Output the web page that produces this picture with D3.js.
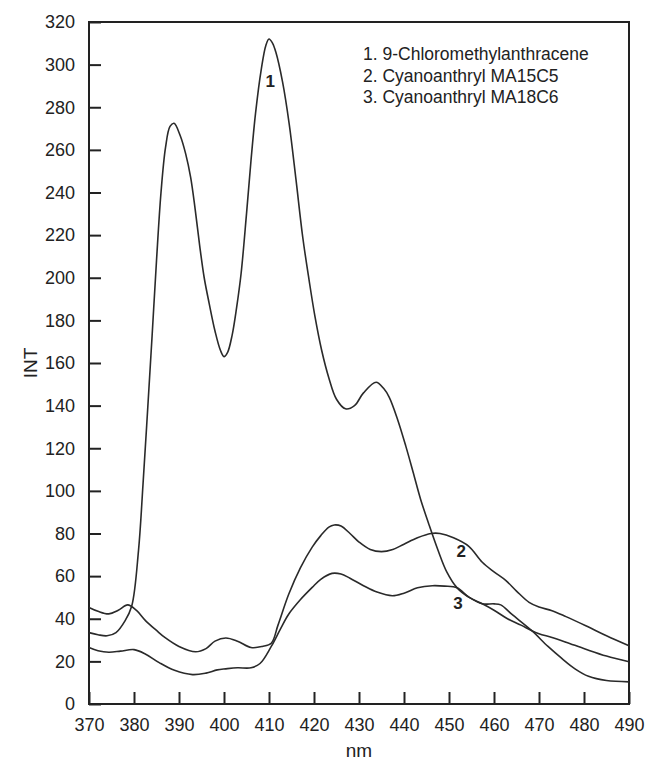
<!DOCTYPE html>
<html>
<head>
<meta charset="utf-8">
<script src="https://cdn.jsdelivr.net/npm/d3@7"></script>
<style>
  html, body { margin: 0; padding: 0; background: #fff; }
  svg { display: block; }
  text { font-family: "Liberation Sans", Arial, sans-serif; fill: #222; }
</style>
</head>
<body>
<svg id="chart" width="648" height="760"></svg>
<script>
// ---- data ----
const xTicks = [370, 380, 390, 400, 410, 420, 430, 440, 450, 460, 470, 480, 490];
const yTicks = [0, 20, 40, 60, 80, 100, 120, 140, 160, 180, 200, 220, 240, 260, 280, 300, 320];
const legendLabels = ["1. 9-Chloromethylanthracene", "2. Cyanoanthryl MA15C5", "3. Cyanoanthryl MA18C6"];
const xLabel = "nm";
const yLabel = "INT";

const wl1 = [370,372,374,376,378,379.5,381,382,383,384,385,386,387,388,388.9,390.3,391.5,392.6,393.6,394.6,395.6,396.7,398,399.2,400,400.8,401.8,402.8,403.8,405,406,407,408.3,409.3,410,410.8,411.5,413,414.5,416,417.5,418.9,420.2,421.7,423.3,425,427,429,431,433.8,435.5,436.7,438.5,440.4,442,443.7,445.5,447.5,449.5,451.8,454.5,457.4,460,461.5,464,468.4,472,475,478,481,485,490];
const int1 = [33.5,32.5,32,33.5,39,46,72,103,137,172,208,240,261,271,272.5,266.5,258,247,232,215,200,188,175,166,163,165,173,186,202,230,255,277,298,309,312,310,306,292,272,246,219,199,182,166,153,143,138.5,140,146,151,148,144,134,121,109,96,84.5,72.5,62,54.5,50,47,47,46.5,42,34.4,27,21.5,16.5,13,11,10.4];

const wl2 = [370,372,374.4,376.5,378.6,380.5,382.6,385,387,390,393.7,396,398,400.4,403,406,408.5,410.5,412,414.4,417,419.6,421.5,423.3,424.5,426,428,430,432.5,435,437.5,440,443,446,448,451,454.4,457.4,460,462.6,465,467.8,470,472.9,476,480.4,485,490];
const int2 = [45.3,43.5,42.3,44,46.5,44,39,34.5,31,27,24.5,26,29.5,31,29.5,26.5,27,28.5,37,51.6,64,73.6,79,83,84,83.5,80,76,72.5,71.5,72.5,75,78,80,80,78,74,66.5,62,58,53,47.7,45.5,43.8,41,36.7,32,27.3];

const wl3 = [370,372,374.4,377,380,382.5,385.6,389,393,396,398.5,400.4,403,406,408,410.5,412.5,414.4,417,419.6,421.5,424,426,428,431,434,437.4,440,443,446.3,449,451.8,454.5,457.4,460,463,466,468.4,470,472.9,476,480.4,485,490];
const int3 = [26.5,25,24.3,24.8,25.5,23.5,19.4,15.8,13.8,14.5,16,16.5,17,17,19,27,35,42.2,49,54.7,58.5,61.3,61,59,55.5,52.5,50.8,52,54.5,55.5,55.3,54.5,50,47,44,40,37,34.4,33,31.2,29,25.7,22.5,19.8];

const curveLabels = ["1", "2", "3"];
const curveLabelPos = [[410.3, 292], [452.7, 71.5], [452, 47.3]];

// ---- layout ----
const svg = d3.select("#chart");
const L = 89, R = 629, T = 22, B = 704;
const x = d3.scaleLinear().domain([370, 490]).range([L, R]);
const y = d3.scaleLinear().domain([0, 320]).range([B, T]);

const ink = "#222";

// axes
const xAxis = d3.axisBottom(x).tickValues(xTicks).tickSizeInner(-12).tickSizeOuter(0).tickPadding(14);
const yAxis = d3.axisLeft(y).tickValues(yTicks).tickSizeInner(-12).tickSizeOuter(0).tickPadding(14);

const gx = svg.append("g").attr("transform", `translate(0,${B})`).call(xAxis);
const gy = svg.append("g").attr("transform", `translate(${L},0)`).call(yAxis);
[gx, gy].forEach(g => {
  g.select(".domain").remove();
  g.selectAll(".tick line").attr("stroke", ink).attr("stroke-width", 2);
  g.selectAll(".tick text").style("font-size", "18px").style("font-family", "Liberation Sans, Arial, sans-serif").attr("fill", "#333");
});

// frame
svg.append("rect").attr("x", L).attr("y", T).attr("width", R - L).attr("height", B - T)
  .attr("fill", "none").attr("stroke", ink).attr("stroke-width", 2);

// curves
const line = d3.line().x(d => x(d[0])).y(d => y(d[1])).curve(d3.curveCatmullRom.alpha(0.5));
const series = [d3.zip(wl1, int1), d3.zip(wl2, int2), d3.zip(wl3, int3)];
series.forEach(s => {
  svg.append("path").datum(s).attr("d", line)
    .attr("fill", "none").attr("stroke", "#2a2a2a").attr("stroke-width", 1.6);
});

// curve number labels
curveLabels.forEach((t, i) => {
  svg.append("text").attr("x", x(curveLabelPos[i][0])).attr("y", y(curveLabelPos[i][1]))
    .attr("text-anchor", "middle").attr("dominant-baseline", "central")
    .style("font-size", "17px").style("font-weight", "bold").text(t);
});

// legend text
legendLabels.forEach((t, i) => {
  svg.append("text").attr("x", 363).attr("y", 60 + i * 21.5)
    .style("font-size", "17.5px").attr("fill", "#333").text(t);
});

// axis titles
svg.append("text").attr("x", (L + R) / 2).attr("y", 757).attr("text-anchor", "middle")
  .style("font-size", "19px").attr("fill", "#333").text(xLabel);
svg.append("text").attr("transform", `translate(37,${(T + B) / 2}) rotate(-90)`)
  .attr("text-anchor", "middle").style("font-size", "19px").attr("fill", "#333").text(yLabel);
</script>
</body>
</html>
